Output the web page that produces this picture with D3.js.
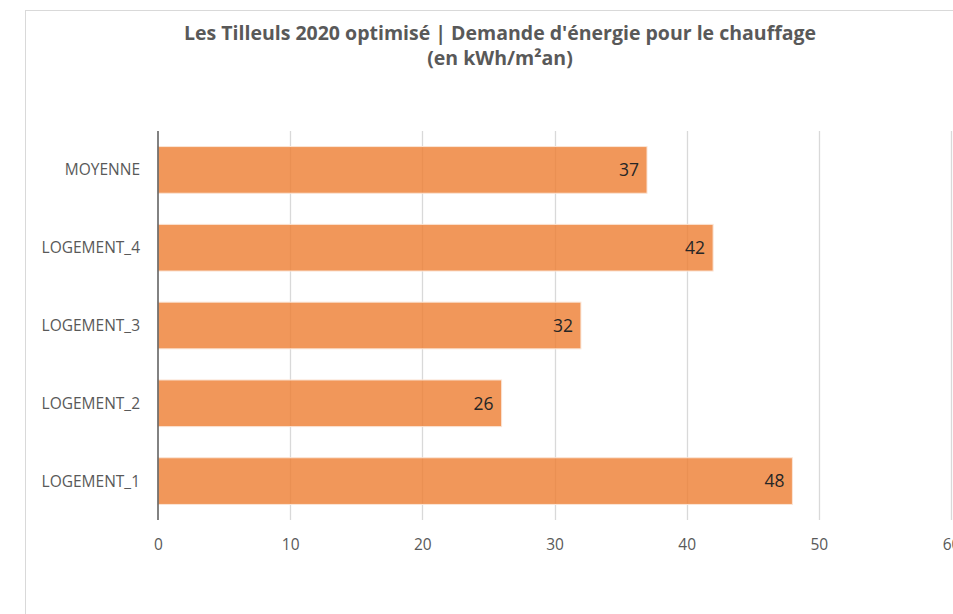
<!DOCTYPE html>
<html>
<head>
<meta charset="utf-8">
<script src="https://cdn.jsdelivr.net/npm/d3@7"></script>
<style>
  body { margin: 0; background: #fff; }
  svg { display: block; font-family: "Open Sans", "Liberation Sans", sans-serif; }
</style>
</head>
<body>
<svg></svg>
<script>
let width = 953,
    height = 614,
    svg = d3.select("svg")
        .attr("width", width)
        .attr("height", height)

// data, top to bottom
let categories = ["MOYENNE", "LOGEMENT_4", "LOGEMENT_3", "LOGEMENT_2", "LOGEMENT_1"];
let values = [37, 42, 32, 26, 48];
let xTicks = [0, 10, 20, 30, 40, 50, 60];
let titleLines = ["Les Tilleuls 2020 optimisé | Demande d'énergie pour le chauffage", "(en kWh/m²an)"];

let margin = {left: 158, right: 2, top: 131, bottom: 94};

let x = d3.scaleLinear()
    .domain([0, 60])
    .range([margin.left, width - margin.right]);

let y = d3.scaleBand()
    .domain(categories)
    .range([margin.top, height - margin.bottom])
    .paddingInner(0.4)
    .paddingOuter(0.2);

// chart frame
svg.append("rect")
    .attr("x", 25.5)
    .attr("y", 10.5)
    .attr("width", width + 10)
    .attr("height", height + 10)
    .attr("fill", "none")
    .attr("stroke", "#d9d9d9")

// title
svg.append("text")
    .attr("x", 500)
    .attr("y", 40)
    .attr("text-anchor", "middle")
    .attr("font-size", 19.5)
    .attr("font-weight", "bold")
    .attr("fill", "#595959")
    .selectAll("tspan")
    .data(titleLines)
    .enter().append("tspan")
    .attr("x", 500)
    .attr("dy", (d, i) => i === 0 ? 0 : 25)
    .text(d => d)

// gridlines
svg.append("g")
    .attr("class", "grid")
    .selectAll("line")
    .data(xTicks.slice(1))
    .enter().append("line")
    .attr("x1", d => Math.round(x(d)) + 0.5)
    .attr("x2", d => Math.round(x(d)) + 0.5)
    .attr("y1", margin.top)
    .attr("y2", height - margin.bottom)
    .attr("stroke", "#d9d9d9")
    .attr("stroke-width", 1.3)

// bars
let bars = svg.append("g")
    .selectAll("g")
    .data(categories.map((c, i) => ({name: c, value: values[i]})))
    .enter().append("g")

bars.append("rect")
    .attr("x", x(0))
    .attr("y", d => y(d.name))
    .attr("width", d => x(d.value) - x(0))
    .attr("height", y.bandwidth())
    .attr("fill", "#ed7d31")
    .attr("fill-opacity", 0.8)
    .attr("stroke", "#fbe5d6")
    .attr("stroke-width", 1)

bars.append("text")
    .attr("x", d => x(d.value) - 8)
    .attr("y", d => y(d.name) + y.bandwidth() / 2)
    .attr("dy", "0.36em")
    .attr("text-anchor", "end")
    .attr("font-size", 17.5)
    .attr("fill", "#262626")
    .text(d => d.value)

// y axis line + labels
svg.append("line")
    .attr("x1", x(0))
    .attr("x2", x(0))
    .attr("y1", margin.top)
    .attr("y2", height - margin.bottom)
    .attr("stroke", "#595959")
    .attr("stroke-width", 1.5)

svg.append("g")
    .selectAll("text")
    .data(categories)
    .enter().append("text")
    .attr("x", 140)
    .attr("y", d => y(d) + y.bandwidth() / 2)
    .attr("dy", "0.36em")
    .attr("text-anchor", "end")
    .attr("font-size", 15.5)
    .attr("fill", "#595959")
    .text(d => d)

// x axis labels
let xAxis = d3.axisBottom(x)
    .tickValues(xTicks)
    .tickSize(0)
    .tickPadding(0)

svg.append("g")
    .attr("transform", "translate(0," + 539 + ")")
    .call(xAxis)
    .call(g => g.select(".domain").remove())
    .selectAll("text")
    .attr("font-size", 15.5)
    .attr("font-family", "\"Open Sans\", \"Liberation Sans\", sans-serif")
    .attr("fill", "#595959")
</script>
</body>
</html>
